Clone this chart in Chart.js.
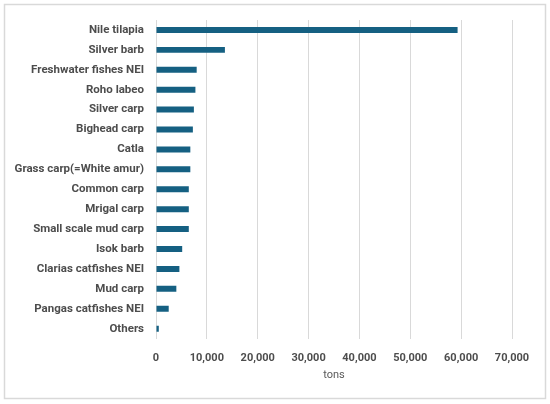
<!DOCTYPE html>
<html>
<head>
<meta charset="utf-8">
<script src="https://cdn.jsdelivr.net/npm/chart.js@4/dist/chart.umd.min.js"></script>
<style>
  html, body { margin: 0; padding: 0; background: #fff; }
  #wrap { width: 550px; height: 404px; position: relative; }
</style>
</head>
<body>
<div id="wrap"><canvas id="grafico"></canvas></div>
<script>
// Datos (toneladas)
const especies = ['Nile tilapia', 'Silver barb', 'Freshwater fishes NEI', 'Roho labeo', 'Silver carp',
    'Bighead carp', 'Catla', 'Grass carp(=White amur)', 'Common carp', 'Mrigal carp',
    'Small scale mud carp', 'Isok barb', 'Clarias catfishes NEI', 'Mud carp', 'Pangas catfishes NEI', 'Others'];
const toneladas = [59300, 13550, 8000, 7750, 7450, 7250, 6750, 6750, 6450, 6450, 6450, 5150, 4600, 4000, 2500, 550];
const ejeX = { min: 0, max: 70000, paso: 10000 };
const tituloX = 'tons';

// Marco gris claro alrededor del grafico
const marco = {
    id: 'marco',
    beforeDraw(chart) {
        const ctx = chart.ctx;
        ctx.save();
        ctx.strokeStyle = '#d9d9d9';
        ctx.lineWidth = 1.5;
        ctx.strokeRect(4.5, 4.5, 541, 394);
        ctx.restore();
    }
};

const config = {
    type: 'bar',
    data: {
        labels: especies,
        datasets: [{
            data: toneladas,
            backgroundColor: '#156082',
            barPercentage: 0.6,
            categoryPercentage: 0.5
        }]
    },
    options: {
        indexAxis: 'y',
        responsive: true,
        maintainAspectRatio: false,
        animation: false,
        layout: { padding: { top: 20, right: 38, bottom: 20, left: 0 } },
        plugins: {
            legend: { display: false },
            tooltip: { enabled: false }
        },
        scales: {
            x: {
                min: ejeX.min,
                max: ejeX.max,
                border: { display: false },
                grid: { color: '#d9d9d9', drawTicks: false },
                ticks: {
                    stepSize: ejeX.paso,
                    padding: 13,
                    color: '#4d4d4d',
                    font: { family: 'Roboto', size: 11, weight: 'bold' },
                    callback: function (v) { return v.toLocaleString('en-US'); }
                },
                title: {
                    display: true,
                    text: tituloX,
                    color: '#595959',
                    font: { family: 'Roboto', size: 11 },
                    padding: { top: -9, bottom: 2 }
                }
            },
            y: {
                afterFit: function (scale) { scale.width = 156; },
                border: { display: false },
                grid: { display: false, drawTicks: false },
                ticks: {
                    padding: 12,
                    color: '#4d4d4d',
                    font: { family: 'Roboto', size: 11.5, weight: 'bold' }
                }
            }
        }
    },
    plugins: [marco]
};

new Chart(document.getElementById('grafico'), config);
</script>
</body>
</html>
